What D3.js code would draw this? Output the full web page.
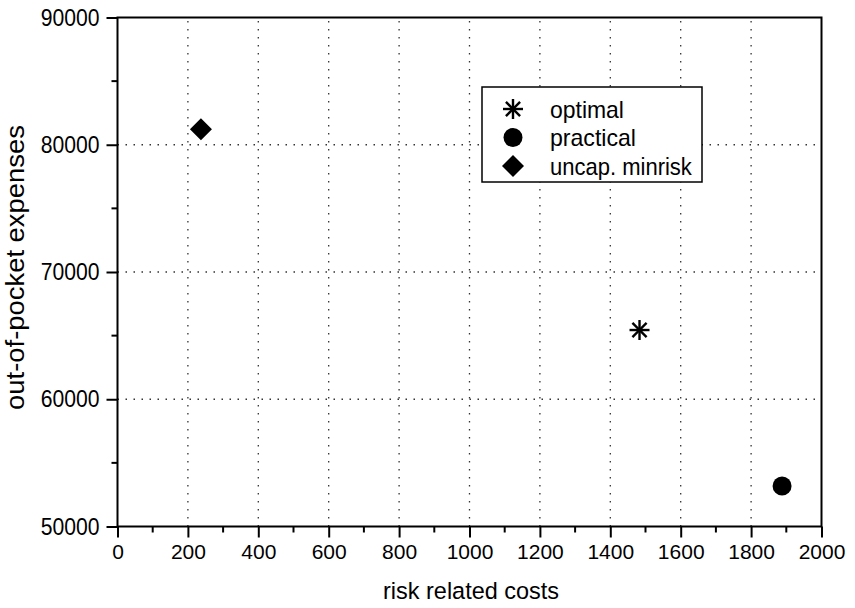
<!DOCTYPE html>
<html>
<head>
<meta charset="utf-8">
<script src="https://cdn.jsdelivr.net/npm/d3@7"></script>
<style>
  body { margin: 0; background: #fff; }
  text { font-family: "Liberation Sans", Arial, sans-serif; fill: #000; }
</style>
</head>
<body>
<svg width="855" height="608"></svg>
<script>
// series (one point each)
var seriesNames = ["optimal", "practical", "uncap. minrisk"];
var riskCosts = [1483, 1888, 237];
var pocketExpenses = [65440, 53180, 81210];

var xTicks = [0, 200, 400, 600, 800, 1000, 1200, 1400, 1600, 1800, 2000];
var yTicks = [50000, 60000, 70000, 80000, 90000];

// put a text at (px, py), squeezed or stretched to the wanted width
function fitText(parent, str, px, py, size, width, anchor, rot) {
    var t = parent.append("text")
        .attr("text-anchor", anchor)
        .style("font-size", size + "px")
        .text(str);
    var k = width / t.node().getComputedTextLength();
    t.attr("transform", "translate(" + px + "," + py + ") rotate(" + (rot || 0) + ") scale(" + k + ",1)");
    return t;
}

function main() {
    var svg = d3.select("svg");

    var left = 117.5, right = 821.5, top = 17.5, bottom = 526.5;

    var x = d3.scaleLinear().domain([0, 2000]).range([left, right]);
    var y = d3.scaleLinear().domain([50000, 90000]).range([bottom, top]);

    // dotted grid
    var grid = svg.append("g")
        .attr("stroke", "#333")
        .attr("stroke-width", 1.3)
        .attr("stroke-dasharray", "1.5,6.5");
    grid.selectAll(".gx").data(xTicks.slice(1, -1)).enter().append("line")
        .attr("x1", function(d) { return x(d); })
        .attr("x2", function(d) { return x(d); })
        .attr("y1", bottom).attr("y2", top);
    grid.selectAll(".gy").data(yTicks.slice(1, -1)).enter().append("line")
        .attr("y1", function(d) { return y(d); })
        .attr("y2", function(d) { return y(d); })
        .attr("x1", left).attr("x2", right);

    // minor ticks
    var xMinor = d3.range(100, 2000, 200);
    var yMinor = d3.range(55000, 90000, 10000);

    var xAxis = svg.append("g")
        .attr("transform", "translate(0," + bottom + ")")
        .call(d3.axisBottom(x).tickValues(xTicks).tickSize(11).tickPadding(7).tickFormat(d3.format("d")));
    xAxis.append("g").selectAll("line").data(xMinor).enter().append("line")
        .attr("x1", function(d) { return x(d); })
        .attr("x2", function(d) { return x(d); })
        .attr("y1", 0).attr("y2", 6)
        .attr("stroke", "#000").attr("stroke-width", 2);

    var yAxis = svg.append("g")
        .attr("transform", "translate(" + left + ",0)")
        .call(d3.axisLeft(y).tickValues(yTicks).tickSize(11).tickPadding(7).tickFormat(d3.format("d")));
    yAxis.append("g").selectAll("line").data(yMinor).enter().append("line")
        .attr("y1", function(d) { return y(d); })
        .attr("y2", function(d) { return y(d); })
        .attr("x1", 0).attr("x2", -6)
        .attr("stroke", "#000").attr("stroke-width", 2);

    [xAxis, yAxis].forEach(function(a) {
        a.select(".domain").remove();
        a.selectAll(".tick line").attr("stroke", "#000").attr("stroke-width", 2);
        a.selectAll(".tick text")
            .style("font-family", "'Liberation Sans', Arial, sans-serif")
            .attr("fill", "#000");
    });
    xAxis.selectAll(".tick text").style("font-size", "21px");

    // y tick labels are taller and narrower
    var ky = 0.9;
    yAxis.selectAll(".tick text")
        .style("font-size", "23.5px")
        .attr("x", -18 / ky)
        .attr("transform", "scale(" + ky + ",1)");

    // frame
    svg.append("rect")
        .attr("x", left).attr("y", top)
        .attr("width", right - left).attr("height", bottom - top)
        .attr("fill", "none").attr("stroke", "#000").attr("stroke-width", 2);

    // axis titles
    fitText(svg, "risk related costs", 471, 599, 23.5, 176, "middle", 0);
    fitText(svg, "out-of-pocket expenses", 24, 267.5, 26, 285, "middle", -90);

    // markers
    function drawMarker(sel, i, cx, cy) {
        if (i === 0) {
            var g = sel.append("g").attr("transform", "translate(" + cx + "," + cy + ")");
            var r = 10;
            [0, 45, 90, 135].forEach(function(a) {
                var rad = a * Math.PI / 180;
                g.append("line")
                    .attr("x1", -r * Math.cos(rad)).attr("y1", -r * Math.sin(rad))
                    .attr("x2", r * Math.cos(rad)).attr("y2", r * Math.sin(rad))
                    .attr("stroke", "#000").attr("stroke-width", 2.4);
            });
        } else if (i === 1) {
            sel.append("circle").attr("cx", cx).attr("cy", cy).attr("r", 9.5).attr("fill", "#000");
        } else {
            var s = 11;
            sel.append("path")
                .attr("d", "M" + cx + "," + (cy - s) + "L" + (cx + s) + "," + cy + "L" + cx + "," + (cy + s) + "L" + (cx - s) + "," + cy + "Z")
                .attr("fill", "#000");
        }
    }

    var pts = svg.append("g");
    seriesNames.forEach(function(name, i) {
        drawMarker(pts, i, x(riskCosts[i]), y(pocketExpenses[i]));
    });

    // legend
    var legendWidths = [74, 86, 142];
    var lg = svg.append("g");
    lg.append("rect")
        .attr("x", 482).attr("y", 87)
        .attr("width", 220).attr("height", 95)
        .attr("fill", "#fff").attr("stroke", "#000").attr("stroke-width", 1.5);
    seriesNames.forEach(function(name, i) {
        var cy = 109 + i * 28.5;
        drawMarker(lg, i, 513, cy);
        fitText(lg, name, 550, cy + 8.5, 24, legendWidths[i], "start", 0);
    });
}
main();
</script>
</body>
</html>
